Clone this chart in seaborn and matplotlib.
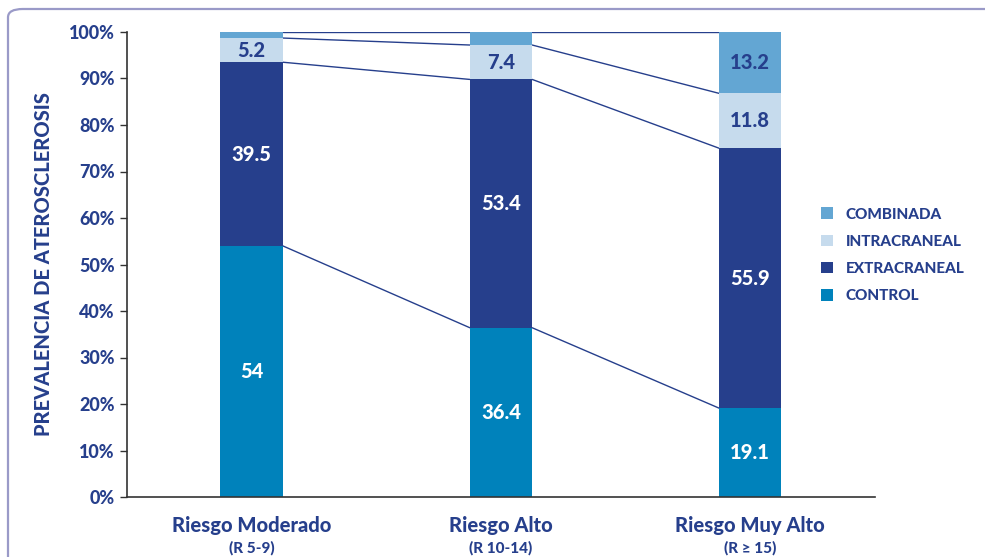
import matplotlib
matplotlib.use("Agg")
import matplotlib.pyplot as plt
from matplotlib.patches import Patch, FancyBboxPatch
import numpy as np
import seaborn as sns

categories = ["Riesgo Moderado", "Riesgo Alto", "Riesgo Muy Alto"]
subtitles = ["(R 5-9)", "(R 10-14)", "(R \u2265 15)"]
control = [54.0, 36.4, 19.1]
extracraneal = [39.5, 53.4, 55.9]
intracraneal = [5.2, 7.4, 11.8]
combinada = [1.3, 2.8, 13.2]
# which segments get a value label
show_combinada = [False, False, True]

series_names = ["CONTROL", "EXTRACRANEAL", "INTRACRANEAL", "COMBINADA"]
colors = ["#0082bb", "#263f8c", "#c6dbed", "#63a6d3"]
text_colors = ["white", "white", "#263f8c", "#263f8c"]
navy = "#263f8c"

W = "black"

sns.set_style("white")
plt.rcParams["font.family"] = ["Lato", "DejaVu Sans"]
plt.rcParams["font.weight"] = W

fig = plt.figure(figsize=(9.85, 5.57), dpi=100)
ax = fig.add_axes([127 / 985, 60 / 557, 748 / 985, 465 / 557])

# rounded frame around the chart
frame = FancyBboxPatch((8 / 985, -0.05), 1.05, (557 - 9) / 557 + 0.05,
                       boxstyle="round,pad=0,rounding_size=0.015",
                       transform=fig.transFigure, fill=False,
                       edgecolor="#9a9ac8", linewidth=1.6, clip_on=False)
fig.patches.append(frame)

layers = [control, extracraneal, intracraneal, combinada]
cum = np.cumsum(np.array(layers), axis=0)

# overlap method: draw tallest cumulative bars first
for i in range(3, -1, -1):
    sns.barplot(x=categories, y=cum[i], color=colors[i], width=0.25,
                saturation=1, linewidth=0, ax=ax, zorder=2)

# connecting lines between segment boundaries
half = 0.125
for i in range(4):
    for j in range(2):
        ax.plot([j + half, j + 1 - half], [cum[i][j], cum[i][j + 1]],
                color=navy, linewidth=1, zorder=1)

# value labels
for i in range(4):
    for j in range(3):
        if i == 3 and not show_combinada[j]:
            continue
        bottom = cum[i][j] - layers[i][j]
        val = layers[i][j]
        ax.text(j, bottom + val / 2, f"{val:g}", ha="center", va="center",
                color=text_colors[i], fontsize=14.5, fontweight=W, zorder=3)

ax.set_xlim(-0.5, 2.5)
ax.set_ylim(0, 100)
ax.set_yticks(np.arange(0, 101, 10))
ax.set_yticklabels([f"{v}%" for v in range(0, 101, 10)])
ax.tick_params(axis="y", direction="out", length=5, width=1, color="#333333",
               labelsize=13, labelcolor=navy, pad=4, left=True)
ax.tick_params(axis="x", length=0, labelbottom=False)
for lbl in ax.get_yticklabels():
    lbl.set_fontweight(W)
ax.set_xlabel("")
ax.set_ylabel("PREVALENCIA DE ATEROSCLEROSIS", fontsize=14.5, fontweight=W,
              color=navy, labelpad=11)

for s in ["top", "right"]:
    ax.spines[s].set_visible(False)
for s in ["left", "bottom"]:
    ax.spines[s].set_color("#333333")
    ax.spines[s].set_linewidth(1.2)

xt = ax.get_xaxis_transform()
for j in range(3):
    ax.text(j, -0.04, categories[j], transform=xt, ha="center", va="top",
            color=navy, fontsize=14.5, fontweight=W)
    ax.text(j, -0.095, subtitles[j], transform=xt, ha="center", va="top",
            color=navy, fontsize=11, fontweight=W)

handles = [Patch(facecolor=colors[i], edgecolor="none", label=series_names[i])
           for i in range(3, -1, -1)]
leg = ax.legend(handles=handles, loc="center left", bbox_to_anchor=(0.92, 0.52),
                frameon=False, fontsize=11, handlelength=0.8, handleheight=0.8,
                labelspacing=0.85, handletextpad=0.8, borderaxespad=0)
for t in leg.get_texts():
    t.set_color(navy)
    t.set_fontweight(W)

fig.savefig("out.png", dpi=100)
